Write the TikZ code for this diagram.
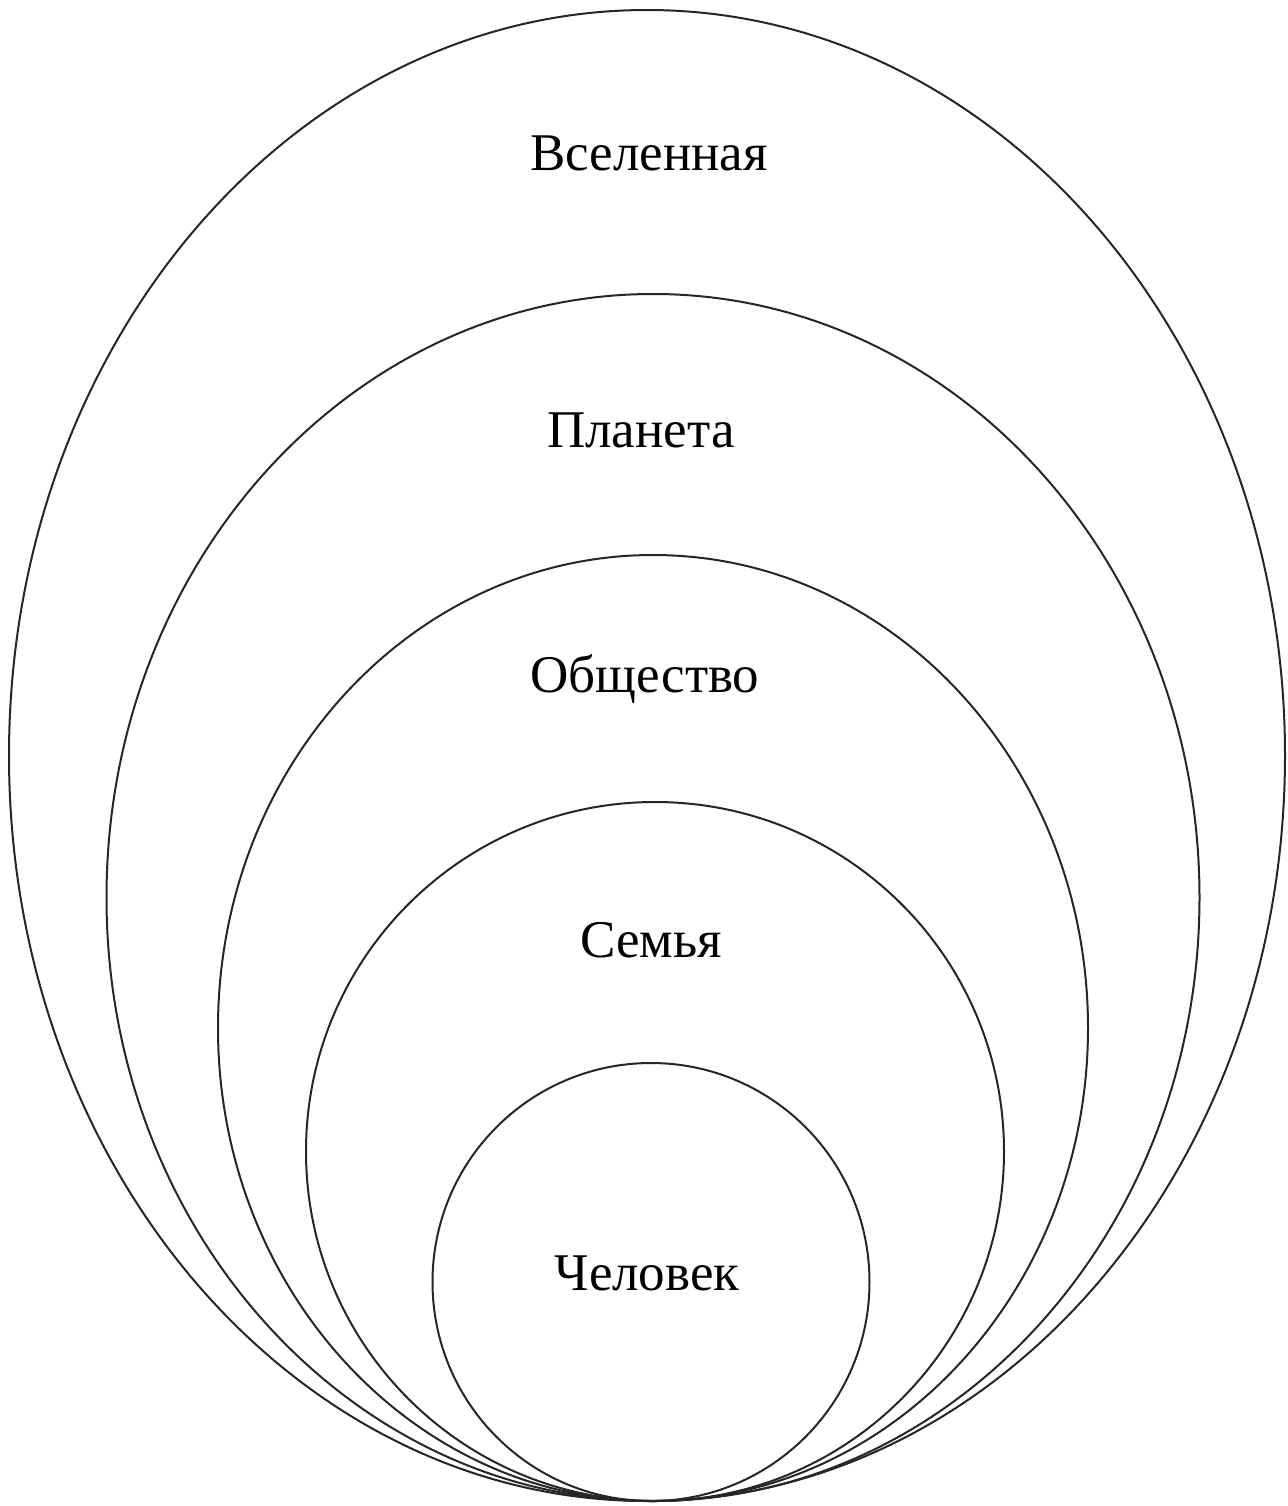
\documentclass[tikz,border=0pt]{standalone}
\usepackage{fontspec}
\setmainfont{Liberation Serif}
\usepackage{tikz}
\usetikzlibrary{shapes.geometric}

\begin{document}
\begin{tikzpicture}[
  x=0.5pt, y=-0.5pt,
  ring/.style={ellipse, draw=black!85, line width=1pt, inner sep=0pt, outer sep=0pt, anchor=south},
  level/.style={anchor=base, inner sep=0pt, font=\fontsize{26.5}{32}\selectfont}
]
\useasboundingbox (0,0) rectangle (1288,1506);

\node[ring, minimum width=638pt, minimum height=745.5pt] (universe) at (647,1501) {};
\node[ring, minimum width=546.5pt, minimum height=603.5pt] (planet) at (653,1501) {};
\node[ring, minimum width=435pt, minimum height=473pt] (society) at (653,1501) {};
\node[ring, minimum width=349pt, minimum height=349.5pt] (family) at (655,1501) {};
\node[ring, minimum width=218.5pt, minimum height=219pt] (person) at (651,1501) {};

\node[level] (universe-label) at (649,170) {Вселенная};
\node[level] (planet-label) at (641,447) {Планета};
\node[level] (society-label) at (645,692) {Общество};
\node[level] (family-label) at (651,957) {Семья};
\node[level] (person-label) at (647,1290) {Человек};
\end{tikzpicture}
\end{document}
